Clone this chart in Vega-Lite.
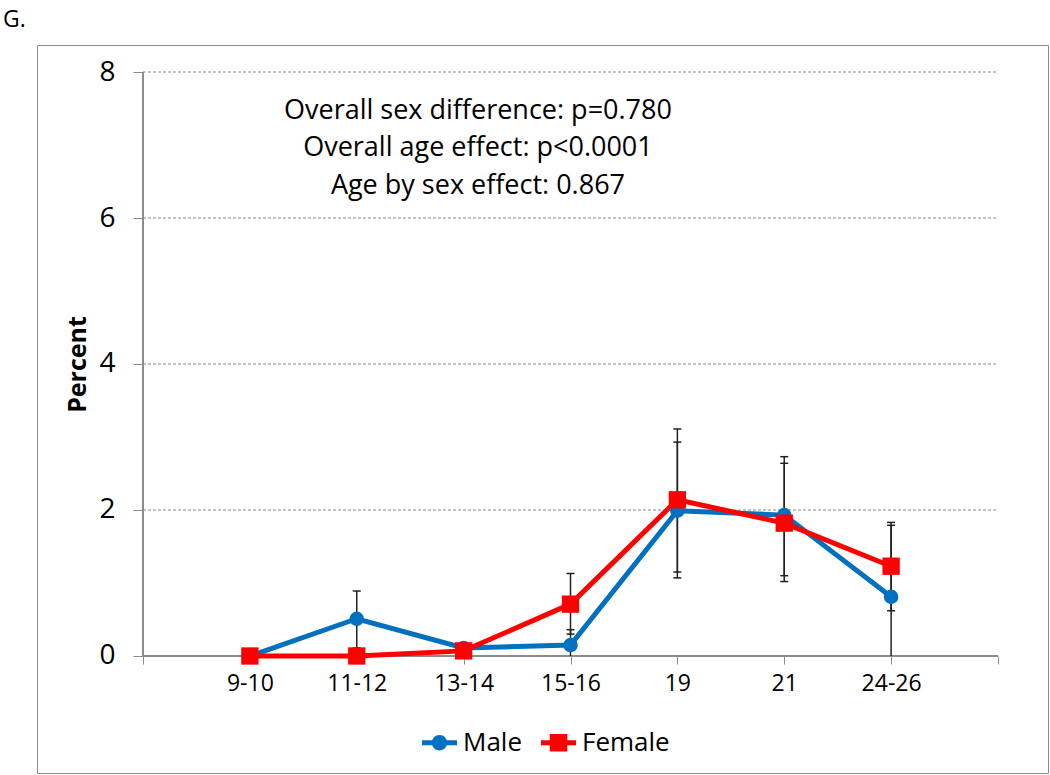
{
  "$schema": "https://vega.github.io/schema/vega-lite/v6.json",
  "width": 1011,
  "height": 728,
  "autosize": {"type": "none"},
  "padding": {"left": 37, "top": 45, "right": 2, "bottom": 2},
  "background": "white",
  "title": {"text": "G.", "anchor": "start", "frame": "group", "dx": -34, "dy": 28, "offset": 18, "fontSize": 23, "fontWeight": "normal", "font": "Open Sans", "color": "#000", "baseline": "bottom"},
  "config": {
    "view": {"stroke": "#8c8c8c", "strokeWidth": 1},
    "font": "Open Sans"
  },
  "datasets": {
    "main": [
      {"age": "9-10", "pos": 1, "sex": "Male", "pct": 0, "lo": 0, "hi": 0},
      {"age": "11-12", "pos": 2, "sex": "Male", "pct": 0.51, "lo": 0.11, "hi": 0.89},
      {"age": "13-14", "pos": 3, "sex": "Male", "pct": 0.11, "lo": 0.11, "hi": 0.11},
      {"age": "15-16", "pos": 4, "sex": "Male", "pct": 0.15, "lo": 0, "hi": 0.36},
      {"age": "19", "pos": 5, "sex": "Male", "pct": 1.99, "lo": 1.07, "hi": 2.93},
      {"age": "21", "pos": 6, "sex": "Male", "pct": 1.93, "lo": 1.1, "hi": 2.73},
      {"age": "24-26", "pos": 7, "sex": "Male", "pct": 0.81, "lo": 0, "hi": 1.79},
      {"age": "9-10", "pos": 1, "sex": "Female", "pct": 0, "lo": 0, "hi": 0},
      {"age": "11-12", "pos": 2, "sex": "Female", "pct": 0, "lo": 0, "hi": 0},
      {"age": "13-14", "pos": 3, "sex": "Female", "pct": 0.07, "lo": 0.07, "hi": 0.07},
      {"age": "15-16", "pos": 4, "sex": "Female", "pct": 0.71, "lo": 0.3, "hi": 1.13},
      {"age": "19", "pos": 5, "sex": "Female", "pct": 2.14, "lo": 1.15, "hi": 3.11},
      {"age": "21", "pos": 6, "sex": "Female", "pct": 1.82, "lo": 1.02, "hi": 2.64},
      {"age": "24-26", "pos": 7, "sex": "Female", "pct": 1.23, "lo": 0.62, "hi": 1.83}
    ],
    "grid": [{"g": 2}, {"g": 4}, {"g": 6}, {"g": 8}],
    "note": [{"label": "Overall sex difference: p=0.780"}]
  },
  "data": {"name": "main"},
  "layer": [
    {
      "data": {"name": "grid"},
      "mark": {"type": "rule", "stroke": "#8a8a8a", "strokeWidth": 1, "strokeDash": [3, 2]},
      "encoding": {
        "x": {"datum": 0, "type": "quantitative", "scale": {"domain": [-0.992, 8.468], "nice": false, "zero": false},
          "axis": {"values": [0, 1, 2, 3, 4, 5, 6, 7, 8], "offset": -117, "domain": false, "grid": false, "ticks": true, "tickSize": 8, "tickColor": "#8c8c8c", "tickWidth": 1,
            "labelExpr": "['', '9-10', '11-12', '13-14', '15-16', '19', '21', '24-26', ''][datum.value]",
            "labelFontSize": 23, "labelColor": "#000", "labelPadding": 8, "labelFont": "Open Sans", "title": null}},
        "x2": {"datum": 8},
        "y": {"field": "g", "type": "quantitative", "scale": {"domain": [-1.603, 8.37], "nice": false, "zero": false},
          "axis": {"values": [0, 2, 4, 6, 8], "format": "d", "offset": -106, "domain": false, "grid": false, "tickSize": 10, "tickColor": "#8c8c8c", "tickWidth": 1,
            "labelFontSize": 28, "labelColor": "#000", "labelPadding": 18, "labelFont": "Open Sans",
            "title": "Percent", "titleFontSize": 25, "titleFontWeight": "bold", "titleColor": "#000", "titleFont": "Open Sans",
            "titleX": -66, "titleY": 319, "titleAngle": -90, "titleAlign": "center", "titleBaseline": "middle"}}
      }
    },
    {
      "mark": {"type": "rule", "stroke": "#8c8c8c", "strokeWidth": 1.5},
      "encoding": {"x": {"datum": 0, "type": "quantitative"}, "x2": {"datum": 8}, "y": {"datum": 0, "type": "quantitative"}}
    },
    {
      "mark": {"type": "rule", "stroke": "#8c8c8c", "strokeWidth": 1.5},
      "encoding": {"x": {"datum": 0, "type": "quantitative"}, "y": {"datum": 0, "type": "quantitative"}, "y2": {"datum": 8}}
    },
    {
      "transform": [{"filter": "datum.hi > datum.lo"}],
      "mark": {"type": "rule", "stroke": "#222", "strokeWidth": 1.5},
      "encoding": {
        "x": {"field": "pos", "type": "quantitative"},
        "y": {"field": "lo", "type": "quantitative"},
        "y2": {"field": "hi"}
      }
    },
    {
      "transform": [{"filter": "datum.hi > datum.pct"}],
      "mark": {"type": "tick", "orient": "horizontal", "color": "#222", "size": 8, "thickness": 1.5, "opacity": 1},
      "encoding": {
        "x": {"field": "pos", "type": "quantitative"},
        "y": {"field": "hi", "type": "quantitative"}
      }
    },
    {
      "transform": [{"filter": "datum.lo < datum.pct && datum.lo > 0"}],
      "mark": {"type": "tick", "orient": "horizontal", "color": "#222", "size": 8, "thickness": 1.5, "opacity": 1},
      "encoding": {
        "x": {"field": "pos", "type": "quantitative"},
        "y": {"field": "lo", "type": "quantitative"}
      }
    },
    {
      "mark": {"type": "line", "strokeWidth": 5},
      "encoding": {
        "x": {"field": "pos", "type": "quantitative"},
        "y": {"field": "pct", "type": "quantitative"},
        "color": {"field": "sex", "type": "nominal", "scale": {"domain": ["Male", "Female"], "range": ["#0070C0", "#FF0000"]},
          "legend": {"orient": "none", "legendX": 385, "legendY": 680, "direction": "horizontal", "columns": 2, "title": null, "padding": 0,
            "symbolSize": 1225, "labelFontSize": 26, "labelFont": "Open Sans", "labelColor": "#000", "labelOffset": 6, "columnPadding": 19, "symbolStrokeWidth": 0,
            "encode": {"symbols": {"update": {
              "shape": {"signal": "datum.value === 'Male' ? 'M-1,-0.14H-0.4V0.14H-1Z M0.4,-0.14H1V0.14H0.4Z M-0.44,0A0.44,0.44 0 1,1 0.44,0A0.44,0.44 0 1,1 -0.44,0Z' : 'M-1,-0.14H-0.45V0.14H-1Z M0.45,-0.14H1V0.14H0.45Z M-0.5,-0.5H0.5V0.5H-0.5Z'"},
              "fill": {"signal": "datum.value === 'Male' ? '#0070C0' : '#FF0000'"},
              "stroke": {"value": "transparent"},
              "strokeWidth": {"value": 0},
              "size": {"value": 1225},
              "opacity": {"value": 1}
            }}}}},
        "detail": {"field": "sex"},
        "order": {"field": "pos"}
      }
    },
    {
      "transform": [{"filter": "datum.sex === 'Male'"}],
      "mark": {"type": "point", "shape": "circle", "filled": true, "opacity": 1, "strokeWidth": 0, "size": 210, "color": "#0070C0"},
      "encoding": {
        "x": {"field": "pos", "type": "quantitative"},
        "y": {"field": "pct", "type": "quantitative"}
      }
    },
    {
      "transform": [{"filter": "datum.sex === 'Female'"}],
      "mark": {"type": "point", "shape": "square", "filled": true, "opacity": 1, "strokeWidth": 0, "size": 300, "color": "#FF0000"},
      "encoding": {
        "x": {"field": "pos", "type": "quantitative"},
        "y": {"field": "pct", "type": "quantitative"}
      }
    },
    {
      "data": {"name": "note"},
      "mark": {"type": "text", "font": "Open Sans", "fontSize": 27, "align": "center", "baseline": "middle", "lineHeight": 37.5, "color": "#000"},
      "encoding": {
        "x": {"datum": 3.134, "type": "quantitative"},
        "y": {"datum": 7.466, "type": "quantitative"},
        "text": {"value": ["Overall sex difference: p=0.780", "Overall age effect: p<0.0001", "Age by sex effect: 0.867"]}
      }
    }
  ]
}
